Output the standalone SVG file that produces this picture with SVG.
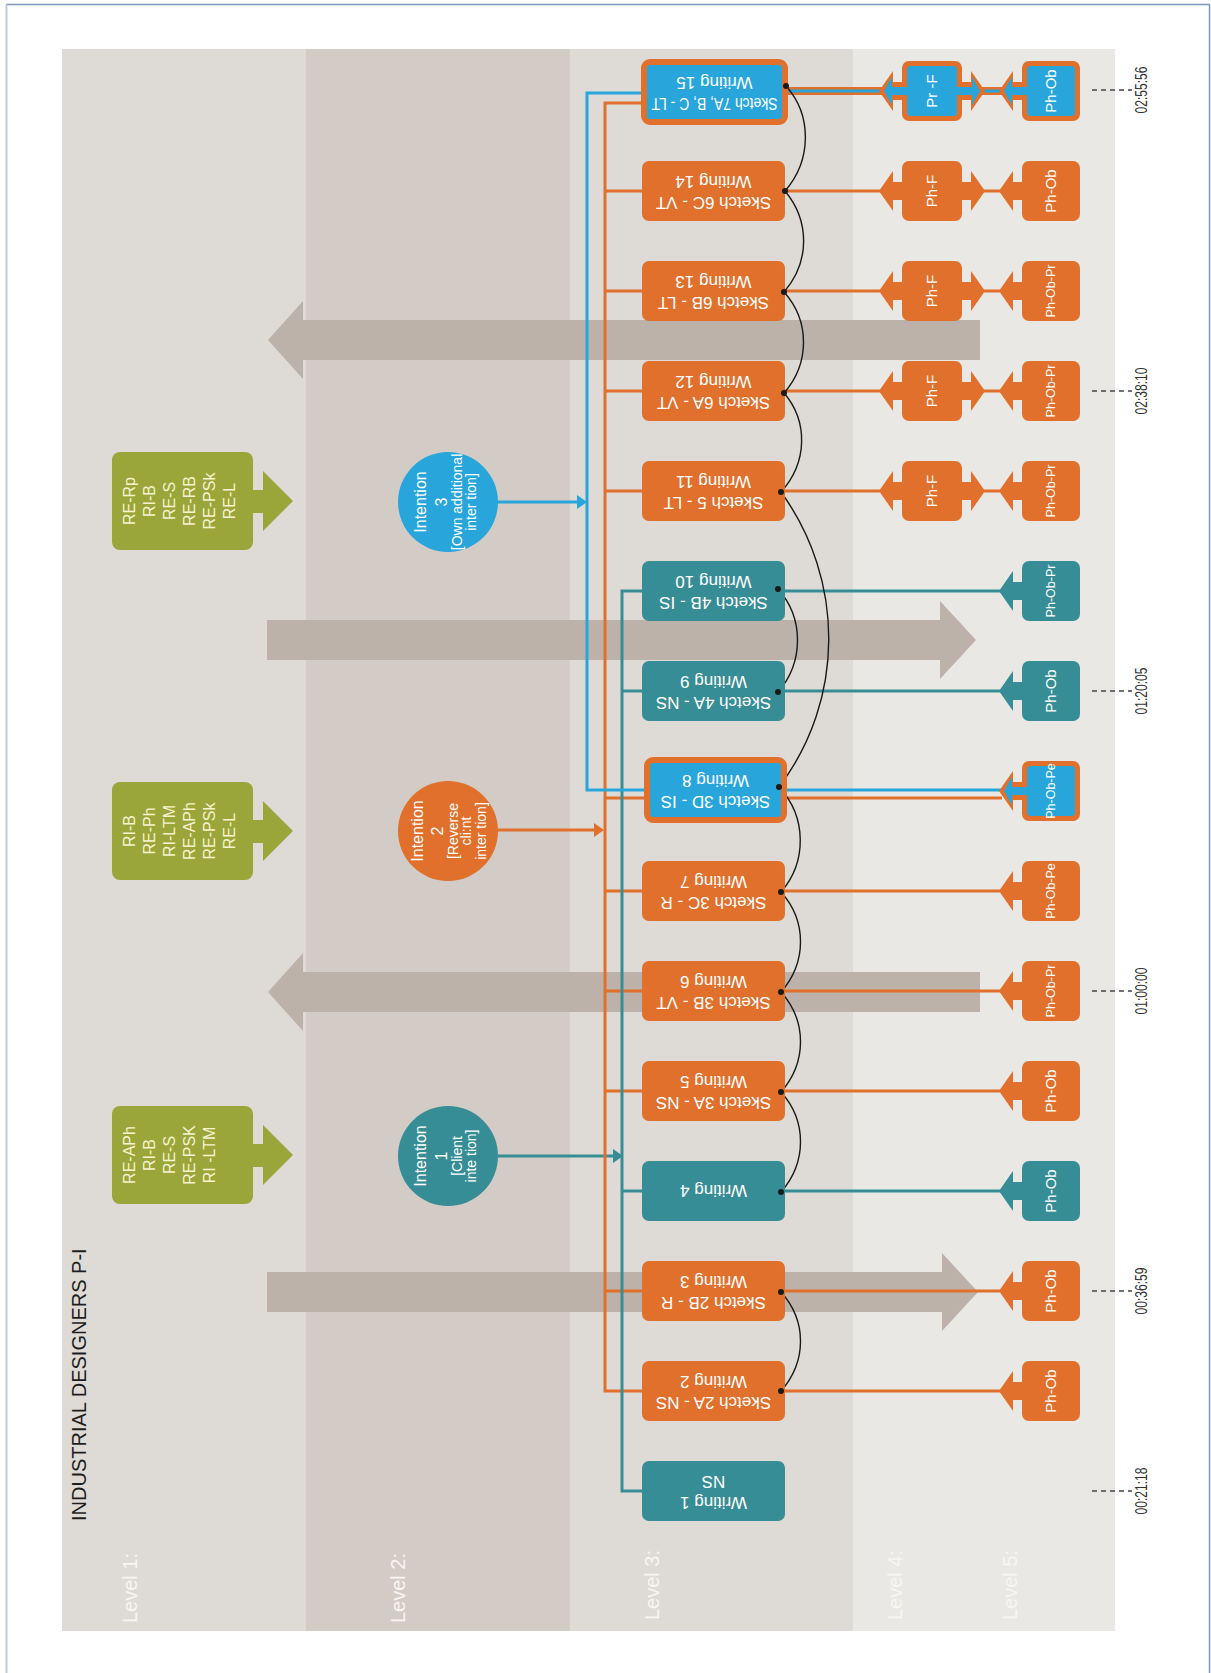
<svg xmlns="http://www.w3.org/2000/svg" xmlns:xlink="http://www.w3.org/1999/xlink" width="1211" height="1673" viewBox="0 0 1211 1673">
<style>
  text{font-family:"Liberation Sans",Arial,Helvetica,sans-serif}
  .o{fill:#e0702b}
  .tl{fill:#378d95}
  .b{fill:#28a6dc}
  .g{fill:#9aa53a}
  .big{fill:#bcb2aa}
  .lo{stroke:#e0702b;stroke-width:3;fill:none}
  .lt{stroke:#378d95;stroke-width:3;fill:none}
  .lb{stroke:#28a6dc;stroke-width:3;fill:none}
  .arc{stroke:#1a1a1a;stroke-width:1.4;fill:none}
  .dot{fill:#1a1a1a}
  .nt{fill:#fff;font-size:17px;text-anchor:middle}
  .pt{fill:#fff;font-size:15px;text-anchor:middle}
  .ps{fill:#fff;font-size:12.5px;text-anchor:middle}
  .gt{fill:#f6f3cf;font-size:16px;text-anchor:middle}
  .it{fill:#fff;font-size:16px;text-anchor:middle}
  .is{font-size:14px}
  .lv{fill:#f7f6f3;font-size:20px}
  .ts{fill:#333;font-size:16px;text-anchor:middle}
  .dash{stroke:#444;stroke-width:1.5;stroke-dasharray:5 4;fill:none}
</style>
<defs>
  <!-- level 5 observation node: body with a left-pointing arrow -->
  <g id="l5">
    <rect x="-29" y="-30" width="58" height="60" rx="7"/>
    <rect x="-39" y="-9" width="11" height="18"/>
    <polygon points="-38,-20 -52,0 -38,20"/>
  </g>
  <g id="l5in">
    <rect x="-24" y="-25" width="48" height="50" rx="4"/>
    <rect x="-40" y="-4" width="17" height="8"/>
    <polygon points="-39,-14 -47,0 -39,14"/>
  </g>
  <!-- level 4 node: body with arrows on both sides -->
  <g id="l4">
    <rect x="-30" y="-30" width="60" height="60" rx="7"/>
    <rect x="-40" y="-9" width="11" height="18"/>
    <rect x="29" y="-9" width="11" height="18"/>
    <polygon points="-39,-20 -53,0 -39,20"/>
    <polygon points="39,-20 53,0 39,20"/>
  </g>
  <g id="l4in">
    <rect x="-25" y="-25" width="50" height="50" rx="4"/>
    <rect x="-41" y="-4" width="17" height="8"/>
    <rect x="24" y="-4" width="17" height="8"/>
    <polygon points="-40,-14 -48,0 -40,14"/>
    <polygon points="40,-14 48,0 40,14"/>
  </g>
  <!-- level 1 green tag with arrow -->
  <g id="tag">
    <rect x="112" y="-49" width="141" height="98" rx="8"/>
    <rect x="251" y="-11" width="13" height="23"/>
    <polygon points="263,-30 293,0 263,30"/>
  </g>
</defs>

<!-- page frame -->
<rect x="0" y="0" width="1211" height="1673" fill="#fff"/>
<line x1="6" y1="4.5" x2="1210" y2="4.5" stroke="#7b98bf" stroke-width="1.5"/>
<line x1="1209.5" y1="4.5" x2="1209.5" y2="1673" stroke="#7b98bf" stroke-width="1.5"/>
<line x1="6.5" y1="4.5" x2="6.5" y2="1673" stroke="#c3ccd9" stroke-width="2"/>

<!-- level bands -->
<g id="bands">
  <rect x="62" y="49" width="244" height="1582" fill="#dedbd6"/>
  <rect x="306" y="49" width="264" height="1582" fill="#d3cbc5"/>
  <rect x="570" y="49" width="283" height="1582" fill="#dedbd6"/>
  <rect x="853" y="49" width="262" height="1582" fill="#e9e8e4"/>
</g>

<!-- title and level labels -->
<text transform="translate(86,1521) rotate(-90)" font-size="20" fill="#1e1e1e">INDUSTRIAL DESIGNERS P-I</text>
<g class="lv">
  <text transform="translate(137,1623) rotate(-90)">Level 1:</text>
  <text transform="translate(405,1623) rotate(-90)">Level 2:</text>
  <text transform="translate(659,1620) rotate(-90)">Level 3:</text>
  <text transform="translate(902,1620) rotate(-90)">Level 4:</text>
  <text transform="translate(1017,1620) rotate(-90)">Level 5:</text>
</g>

<!-- broad phase arrows -->
<g id="phase-arrows" class="big">
  <polygon points="267,1272 942,1272 942,1253 978,1292 942,1331 942,1312 267,1312"/>
  <polygon points="980,972 303,972 303,953 268,992 303,1031 303,1012 980,1012"/>
  <polygon points="267,620 940,620 940,601 976,640 940,679 940,660 267,660"/>
  <polygon points="980,320 303,320 303,301 268,340 303,379 303,360 980,360"/>
</g>

<!-- level 1 tags -->
<g id="tag1" transform="translate(0,1155)">
  <use xlink:href="#tag" class="g"/>
  <g transform="rotate(-90)"><text class="gt"><tspan x="0" y="135">RE-APh</tspan><tspan x="0" y="155">RI-B</tspan><tspan x="0" y="175">RE-S</tspan><tspan x="0" y="195">RE-PSK</tspan><tspan x="0" y="215">RI -LTM</tspan></text></g>
</g>
<g id="tag2" transform="translate(0,831)">
  <use xlink:href="#tag" class="g"/>
  <g transform="rotate(-90)"><text class="gt"><tspan x="0" y="135">RI-B</tspan><tspan x="0" y="155">RE-Ph</tspan><tspan x="0" y="175">RI-LTM</tspan><tspan x="0" y="195">RE-APh</tspan><tspan x="0" y="215">RE-PSk</tspan><tspan x="0" y="235">RE-L</tspan></text></g>
</g>
<g id="tag3" transform="translate(0,501)">
  <use xlink:href="#tag" class="g"/>
  <g transform="rotate(-90)"><text class="gt"><tspan x="0" y="135">RE-Rp</tspan><tspan x="0" y="155">RI-B</tspan><tspan x="0" y="175">RE-S</tspan><tspan x="0" y="195">RE-RB</tspan><tspan x="0" y="215">RE-PSk</tspan><tspan x="0" y="235">RE-L</tspan></text></g>
</g>

<!-- connectors -->
<g id="connectors">
  <!-- intention arrows -->
  <line class="lt" x1="498" y1="1156" x2="614" y2="1156"/>
  <polygon class="tl" points="613,1149 623,1156 613,1163"/>
  <line class="lo" x1="498" y1="830" x2="596" y2="830"/>
  <polygon class="o" points="594,823 604,830 594,837"/>
  <line class="lb" x1="498" y1="502" x2="579" y2="502"/>
  <polygon class="b" points="577,495 587,502 577,509"/>

  <!-- orange bus -->
  <polyline class="lo" points="642,103 605,103 605,1391 642,1391"/>
  <line class="lo" x1="605" y1="191" x2="642" y2="191"/>
  <line class="lo" x1="605" y1="291" x2="642" y2="291"/>
  <line class="lo" x1="605" y1="391" x2="642" y2="391"/>
  <line class="lo" x1="605" y1="491" x2="642" y2="491"/>
  <line class="lo" x1="605" y1="798" x2="644" y2="798"/>
  <line class="lo" x1="605" y1="891" x2="642" y2="891"/>
  <line class="lo" x1="605" y1="991" x2="642" y2="991"/>
  <line class="lo" x1="605" y1="1091" x2="642" y2="1091"/>
  <line class="lo" x1="605" y1="1291" x2="642" y2="1291"/>
  <!-- teal bus -->
  <polyline class="lt" points="642,591 622,591 622,1491 642,1491"/>
  <line class="lt" x1="622" y1="691" x2="642" y2="691"/>
  <line class="lt" x1="622" y1="1191" x2="642" y2="1191"/>
  <!-- blue bus -->
  <polyline class="lb" points="642,93 587,93 587,790 644,790"/>

  <!-- links to levels 4 and 5 -->
  <line class="lo" x1="785" y1="1391" x2="1000" y2="1391"/>
  <line class="lo" x1="785" y1="1291" x2="1000" y2="1291"/>
  <line class="lt" x1="785" y1="1191" x2="1000" y2="1191"/>
  <line class="lo" x1="785" y1="1091" x2="1000" y2="1091"/>
  <line class="lo" x1="785" y1="991" x2="1000" y2="991"/>
  <line class="lo" x1="785" y1="891" x2="1000" y2="891"/>
  <line class="lo" x1="786" y1="798" x2="1002" y2="798"/>
  <line class="lb" x1="786" y1="790" x2="1002" y2="790"/>
  <line class="lt" x1="785" y1="691" x2="1000" y2="691"/>
  <line class="lt" x1="785" y1="591" x2="1000" y2="591"/>
  <line class="lo" x1="785" y1="491" x2="880" y2="491"/>
  <line class="lo" x1="984" y1="491" x2="1000" y2="491"/>
  <line class="lo" x1="785" y1="391" x2="880" y2="391"/>
  <line class="lo" x1="984" y1="391" x2="1000" y2="391"/>
  <line class="lo" x1="785" y1="291" x2="880" y2="291"/>
  <line class="lo" x1="984" y1="291" x2="1000" y2="291"/>
  <line class="lo" x1="785" y1="191" x2="880" y2="191"/>
  <line class="lo" x1="984" y1="191" x2="1000" y2="191"/>
  <line x1="786" y1="91" x2="882" y2="91" stroke="#e0702b" stroke-width="8"/>
  <line class="lb" x1="786" y1="91" x2="882" y2="91"/>
  <line x1="982" y1="91" x2="1002" y2="91" stroke="#e0702b" stroke-width="8"/>
  <line class="lb" x1="982" y1="91" x2="1002" y2="91"/>

  <!-- sequence arcs -->
  <path class="arc" d="M781,1391 C807,1361 807,1321 781,1292"/>
  <path class="arc" d="M781,1192 C807,1162 807,1121 781,1092"/>
  <path class="arc" d="M781,1092 C807,1062 807,1021 781,992"/>
  <path class="arc" d="M781,992 C807,962 807,921 781,892"/>
  <path class="arc" d="M781,892 C807,862 807,817 779,787"/>
  <path class="arc" d="M779,787 C845,700 845,580 781,492"/>
  <path class="arc" d="M778,692 C804,662 804,618 778,589"/>
  <path class="arc" d="M781,492 C808,462 808,421 784,393"/>
  <path class="arc" d="M784,393 C810,363 810,321 784,292"/>
  <path class="arc" d="M784,292 C810,262 810,221 785,191"/>
  <path class="arc" d="M785,191 C812,160 812,115 786,86"/>
</g>

<!-- intentions -->
<g id="intention1">
  <circle cx="448" cy="1156" r="50" class="tl"/>
  <g transform="translate(0,1156) rotate(-90)"><text class="it"><tspan x="0" y="426">Intention</tspan><tspan x="0" y="447">1</tspan><tspan x="0" y="462" class="is">[Client</tspan><tspan x="0" y="476" class="is">inte tion]</tspan></text></g>
</g>
<g id="intention2">
  <circle cx="448" cy="831" r="50" class="o"/>
  <g transform="translate(0,831) rotate(-90)"><text class="it"><tspan x="0" y="423">Intention</tspan><tspan x="0" y="443">2</tspan><tspan x="0" y="458" class="is">[Reverse</tspan><tspan x="0" y="471" class="is">cli:nt</tspan><tspan x="0" y="486" class="is">inter tion]</tspan></text></g>
</g>
<g id="intention3">
  <circle cx="448" cy="502" r="50" class="b"/>
  <g transform="translate(0,502) rotate(-90)"><text class="it"><tspan x="0" y="426">Intention</tspan><tspan x="0" y="447">3</tspan><tspan x="0" y="462" class="is">[Own additional</tspan><tspan x="0" y="476" class="is">inter tion]</tspan></text></g>
</g>

<!-- level 3 nodes -->
<g id="w1"><rect x="642" y="1461" width="143" height="60" rx="7" class="tl"/>
  <text class="nt" transform="rotate(180 713.5 1491)"><tspan x="713.5" y="1485">Writing 1</tspan><tspan x="713.5" y="1506">NS</tspan></text></g>
<g id="w2"><rect x="642" y="1361" width="143" height="60" rx="7" class="o"/>
  <text class="nt" transform="rotate(180 713.5 1391)"><tspan x="713.5" y="1385">Sketch 2A - NS</tspan><tspan x="713.5" y="1406">Writing 2</tspan></text></g>
<g id="w3"><rect x="642" y="1261" width="143" height="60" rx="7" class="o"/>
  <text class="nt" transform="rotate(180 713.5 1291)"><tspan x="713.5" y="1285">Sketch 2B - R</tspan><tspan x="713.5" y="1306">Writing 3</tspan></text></g>
<g id="w4"><rect x="642" y="1161" width="143" height="60" rx="7" class="tl"/>
  <text class="nt" transform="rotate(180 713.5 1191)"><tspan x="713.5" y="1197">Writing 4</tspan></text></g>
<g id="w5"><rect x="642" y="1061" width="143" height="60" rx="7" class="o"/>
  <text class="nt" transform="rotate(180 713.5 1091)"><tspan x="713.5" y="1085">Sketch 3A - NS</tspan><tspan x="713.5" y="1106">Writing 5</tspan></text></g>
<g id="w6"><rect x="642" y="961" width="143" height="60" rx="7" class="o"/>
  <text class="nt" transform="rotate(180 713.5 991)"><tspan x="713.5" y="985">Sketch 3B - VT</tspan><tspan x="713.5" y="1006">Writing 6</tspan></text></g>
<g id="w7"><rect x="642" y="861" width="143" height="60" rx="7" class="o"/>
  <text class="nt" transform="rotate(180 713.5 891)"><tspan x="713.5" y="885">Sketch 3C - R</tspan><tspan x="713.5" y="906">Writing 7</tspan></text></g>
<g id="w8"><rect x="647" y="760" width="137" height="60" rx="6" class="b" stroke="#e0702b" stroke-width="6"/>
  <text class="nt" transform="rotate(180 715.5 790)"><tspan x="715.5" y="784">Sketch 3D - IS</tspan><tspan x="715.5" y="805">Writing 8</tspan></text></g>
<g id="w9"><rect x="642" y="661" width="143" height="60" rx="7" class="tl"/>
  <text class="nt" transform="rotate(180 713.5 691)"><tspan x="713.5" y="685">Sketch 4A - NS</tspan><tspan x="713.5" y="706">Writing 9</tspan></text></g>
<g id="w10"><rect x="642" y="561" width="143" height="60" rx="7" class="tl"/>
  <text class="nt" transform="rotate(180 713.5 591)"><tspan x="713.5" y="585">Sketch 4B - IS</tspan><tspan x="713.5" y="606">Writing 10</tspan></text></g>
<g id="w11"><rect x="642" y="461" width="143" height="60" rx="7" class="o"/>
  <text class="nt" transform="rotate(180 713.5 491)"><tspan x="713.5" y="485">Sketch 5 - LT</tspan><tspan x="713.5" y="506">Writing 11</tspan></text></g>
<g id="w12"><rect x="642" y="361" width="143" height="60" rx="7" class="o"/>
  <text class="nt" transform="rotate(180 713.5 391)"><tspan x="713.5" y="385">Sketch 6A - VT</tspan><tspan x="713.5" y="406">Writing 12</tspan></text></g>
<g id="w13"><rect x="642" y="261" width="143" height="60" rx="7" class="o"/>
  <text class="nt" transform="rotate(180 713.5 291)"><tspan x="713.5" y="285">Sketch 6B - LT</tspan><tspan x="713.5" y="306">Writing 13</tspan></text></g>
<g id="w14"><rect x="642" y="161" width="143" height="60" rx="7" class="o"/>
  <text class="nt" transform="rotate(180 713.5 191)"><tspan x="713.5" y="185">Sketch 6C - VT</tspan><tspan x="713.5" y="206">Writing 14</tspan></text></g>
<g id="w15"><rect x="644" y="62" width="141" height="60" rx="6" class="b" stroke="#e0702b" stroke-width="6"/>
  <text class="nt" transform="rotate(180 714.5 92)"><tspan x="714.5" y="86" textLength="126" lengthAdjust="spacingAndGlyphs">Sketch 7A, B, C - LT</tspan><tspan x="714.5" y="107">Writing 15</tspan></text></g>

<!-- level 4 nodes -->
<g id="f11" transform="translate(932,491)"><use xlink:href="#l4" class="o"/><g transform="rotate(-90)"><text class="pt" x="0" y="5">Ph-F</text></g></g>
<g id="f12" transform="translate(932,391)"><use xlink:href="#l4" class="o"/><g transform="rotate(-90)"><text class="pt" x="0" y="5">Ph-F</text></g></g>
<g id="f13" transform="translate(932,291)"><use xlink:href="#l4" class="o"/><g transform="rotate(-90)"><text class="pt" x="0" y="5">Ph-F</text></g></g>
<g id="f14" transform="translate(932,191)"><use xlink:href="#l4" class="o"/><g transform="rotate(-90)"><text class="pt" x="0" y="5">Ph-F</text></g></g>
<g id="f15" transform="translate(932,91)"><use xlink:href="#l4" class="o"/><use xlink:href="#l4in" class="b"/><g transform="rotate(-90)"><text class="pt" x="0" y="5">Pr -F</text></g></g>

<!-- level 5 nodes -->
<g id="p2" transform="translate(1051,1391)"><use xlink:href="#l5" class="o"/><g transform="rotate(-90)"><text class="pt" x="0" y="5">Ph-Ob</text></g></g>
<g id="p3" transform="translate(1051,1291)"><use xlink:href="#l5" class="o"/><g transform="rotate(-90)"><text class="pt" x="0" y="5">Ph-Ob</text></g></g>
<g id="p4" transform="translate(1051,1191)"><use xlink:href="#l5" class="tl"/><g transform="rotate(-90)"><text class="pt" x="0" y="5">Ph-Ob</text></g></g>
<g id="p5" transform="translate(1051,1091)"><use xlink:href="#l5" class="o"/><g transform="rotate(-90)"><text class="pt" x="0" y="5">Ph-Ob</text></g></g>
<g id="p6" transform="translate(1051,991)"><use xlink:href="#l5" class="o"/><g transform="rotate(-90)"><text class="ps" x="0" y="4">Ph-Ob-Pr</text></g></g>
<g id="p7" transform="translate(1051,891)"><use xlink:href="#l5" class="o"/><g transform="rotate(-90)"><text class="ps" x="0" y="4">Ph-Ob-Pe</text></g></g>
<g id="p8" transform="translate(1051,791)"><use xlink:href="#l5" class="o"/><use xlink:href="#l5in" class="b"/><g transform="rotate(-90)"><text class="ps" x="0" y="4">Ph-Ob-Pe</text></g></g>
<g id="p9" transform="translate(1051,691)"><use xlink:href="#l5" class="tl"/><g transform="rotate(-90)"><text class="pt" x="0" y="5">Ph-Ob</text></g></g>
<g id="p10" transform="translate(1051,591)"><use xlink:href="#l5" class="tl"/><g transform="rotate(-90)"><text class="ps" x="0" y="4">Ph-Ob-Pr</text></g></g>
<g id="p11" transform="translate(1051,491)"><use xlink:href="#l5" class="o"/><g transform="rotate(-90)"><text class="ps" x="0" y="4">Ph-Ob-Pr</text></g></g>
<g id="p12" transform="translate(1051,391)"><use xlink:href="#l5" class="o"/><g transform="rotate(-90)"><text class="ps" x="0" y="4">Ph-Ob-Pr</text></g></g>
<g id="p13" transform="translate(1051,291)"><use xlink:href="#l5" class="o"/><g transform="rotate(-90)"><text class="ps" x="0" y="4">Ph-Ob-Pr</text></g></g>
<g id="p14" transform="translate(1051,191)"><use xlink:href="#l5" class="o"/><g transform="rotate(-90)"><text class="pt" x="0" y="5">Ph-Ob</text></g></g>
<g id="p15" transform="translate(1051,91)"><use xlink:href="#l5" class="o"/><use xlink:href="#l5in" class="b"/><g transform="rotate(-90)"><text class="pt" x="0" y="5">Ph-Ob</text></g></g>

<!-- sequence dots -->
<g id="dots" class="dot">
  <circle cx="781" cy="1391" r="3"/><circle cx="781" cy="1292" r="3"/>
  <circle cx="781" cy="1192" r="3"/><circle cx="781" cy="1092" r="3"/>
  <circle cx="781" cy="992" r="3"/><circle cx="781" cy="892" r="3"/>
  <circle cx="779" cy="787" r="3"/><circle cx="778" cy="692" r="3"/>
  <circle cx="778" cy="589" r="3"/><circle cx="781" cy="492" r="3"/>
  <circle cx="784" cy="393" r="3"/><circle cx="784" cy="292" r="3"/>
  <circle cx="785" cy="191" r="3"/><circle cx="786" cy="86" r="3"/>
</g>

<!-- time stamps -->
<g id="times">
  <line class="dash" x1="1092" y1="1491" x2="1132" y2="1491"/>
  <line class="dash" x1="1092" y1="1291" x2="1132" y2="1291"/>
  <line class="dash" x1="1092" y1="991" x2="1132" y2="991"/>
  <line class="dash" x1="1092" y1="691" x2="1132" y2="691"/>
  <line class="dash" x1="1092" y1="391" x2="1132" y2="391"/>
  <line class="dash" x1="1092" y1="90" x2="1132" y2="90"/>
  <g transform="translate(0,1491) rotate(-90)"><text class="ts" x="0" y="1147" textLength="47" lengthAdjust="spacingAndGlyphs">00:21:18</text></g>
  <g transform="translate(0,1291) rotate(-90)"><text class="ts" x="0" y="1147" textLength="47" lengthAdjust="spacingAndGlyphs">00:36:59</text></g>
  <g transform="translate(0,991) rotate(-90)"><text class="ts" x="0" y="1147" textLength="47" lengthAdjust="spacingAndGlyphs">01:00:00</text></g>
  <g transform="translate(0,691) rotate(-90)"><text class="ts" x="0" y="1147" textLength="47" lengthAdjust="spacingAndGlyphs">01:20:05</text></g>
  <g transform="translate(0,391) rotate(-90)"><text class="ts" x="0" y="1147" textLength="47" lengthAdjust="spacingAndGlyphs">02:38:10</text></g>
  <g transform="translate(0,90) rotate(-90)"><text class="ts" x="0" y="1147" textLength="47" lengthAdjust="spacingAndGlyphs">02:55:56</text></g>
</g>
</svg>
